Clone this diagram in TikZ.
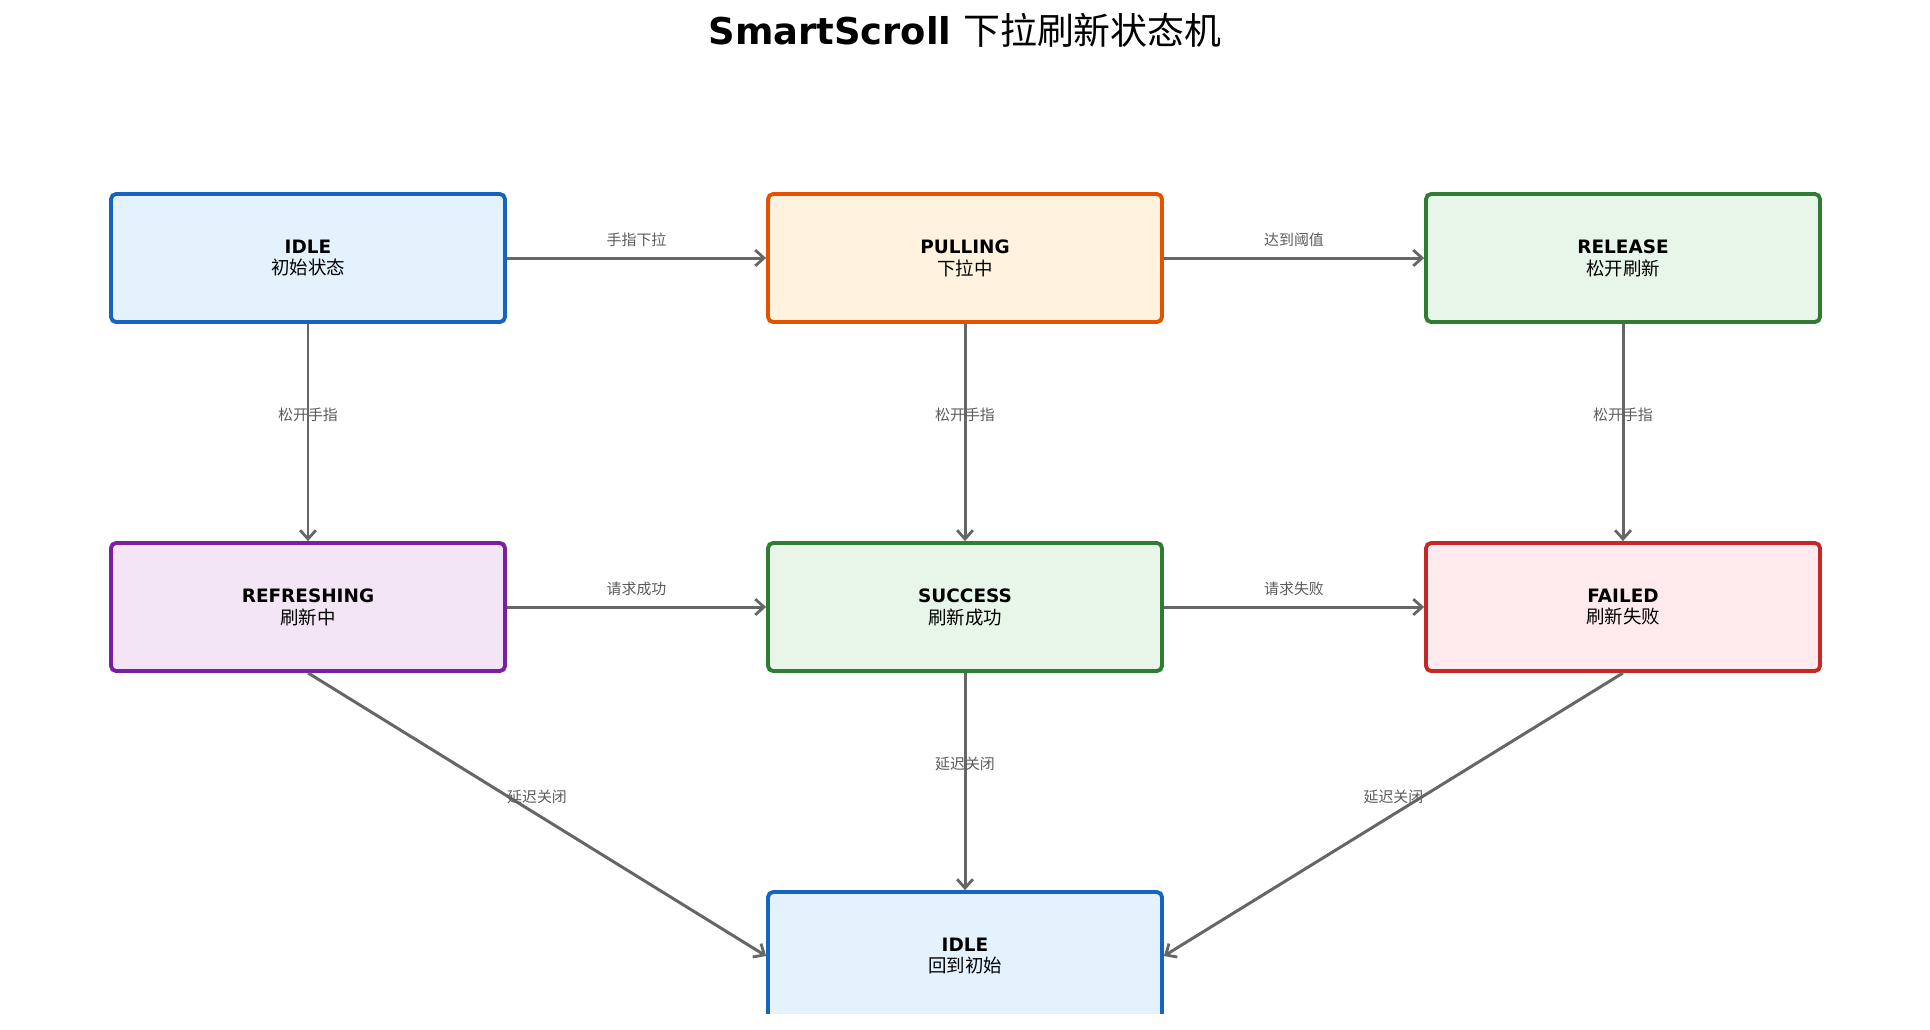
\documentclass[tikz,border=0pt]{standalone}
\usepackage{fontspec}
\setmainfont{DejaVu Sans}
\newfontfamily\cjk{Noto Sans CJK SC}
\usepackage{tikz}
\usetikzlibrary{arrows.meta}
\definecolor{azulB}{HTML}{1565C0}\definecolor{azulF}{HTML}{E3F2FD}
\definecolor{narB}{HTML}{E65100}\definecolor{narF}{HTML}{FFF3E0}
\definecolor{verB}{HTML}{2E7D32}\definecolor{verF}{HTML}{E8F5E9}
\definecolor{morB}{HTML}{7B1FA2}\definecolor{morF}{HTML}{F3E5F5}
\definecolor{rojB}{HTML}{C62828}\definecolor{rojF}{HTML}{FFEBEE}
\definecolor{gris}{HTML}{666666}
\tikzstyle{estado}=[rectangle, rounded corners=0.1cm, line width=2.2pt, minimum width=7.88cm, minimum height=2.56cm, align=center, font=\fontsize{10.5}{12.5}\selectfont]
\tikzstyle{flecha}=[line width=1.7pt, draw=gris, -{Straight Barb[length=5pt,width=9pt,line width=1.6pt]}]
\tikzstyle{etiqueta}=[midway, yshift=0.36cm, text=gris!90!black, font=\fontsize{8.5}{10}\selectfont\cjk, inner sep=0pt]

\begin{document}
\begin{tikzpicture}[x=0.02cm, y=-0.02cm]
            \useasboundingbox (0,0) rectangle (1930,1029);
            \node[font=\fontsize{21}{25}\selectfont] (titulo) at (965,30) {\textbf{SmartScroll} {\cjk 下拉刷新状态机}};

            % estados
            \node[estado, draw=azulB, fill=azulF] (idle) at (308,258) {\textbf{IDLE}\\{\cjk 初始状态}};
            \node[estado, draw=narB, fill=narF] (pulling) at (965,258) {\textbf{PULLING}\\{\cjk 下拉中}};
            \node[estado, draw=verB, fill=verF] (release) at (1623,258) {\textbf{RELEASE}\\{\cjk 松开刷新}};

            \node[estado, draw=morB, fill=morF] (refreshing) at (308,607) {\textbf{REFRESHING}\\{\cjk 刷新中}};
            \node[estado, draw=verB, fill=verF] (success) at (965,607) {\textbf{SUCCESS}\\{\cjk 刷新成功}};
            \node[estado, draw=rojB, fill=rojF] (failed) at (1623,607) {\textbf{FAILED}\\{\cjk 刷新失败}};

            \begin{scope}
            \clip (0,0) rectangle (1930,1013);
            \node[estado, draw=azulB, fill=azulF] (idlefin) at (965,956) {\textbf{IDLE}\\{\cjk 回到初始}};
            \end{scope}

            % transiciones
            \draw[flecha] (idle) -- node[etiqueta] {手指下拉} (pulling);
            \draw[flecha] (pulling) -- node[etiqueta] {达到阈值} (release);
            \draw[flecha] (idle) -- node[etiqueta] {松开手指} (refreshing);
            \draw[flecha] (pulling) -- node[etiqueta] {松开手指} (success);
            \draw[flecha] (release) -- node[etiqueta] {松开手指} (failed);
            \draw[flecha] (refreshing) -- node[etiqueta] {请求成功} (success);
            \draw[flecha] (success) -- node[etiqueta] {请求失败} (failed);
            \draw[flecha] (refreshing.south) -- node[etiqueta] {延迟关闭} (idlefin.west);
            \draw[flecha] (success) -- node[etiqueta] {延迟关闭} (idlefin);
            \draw[flecha] (failed.south) -- node[etiqueta] {延迟关闭} (idlefin.east);
        \end{tikzpicture}
\end{document}
